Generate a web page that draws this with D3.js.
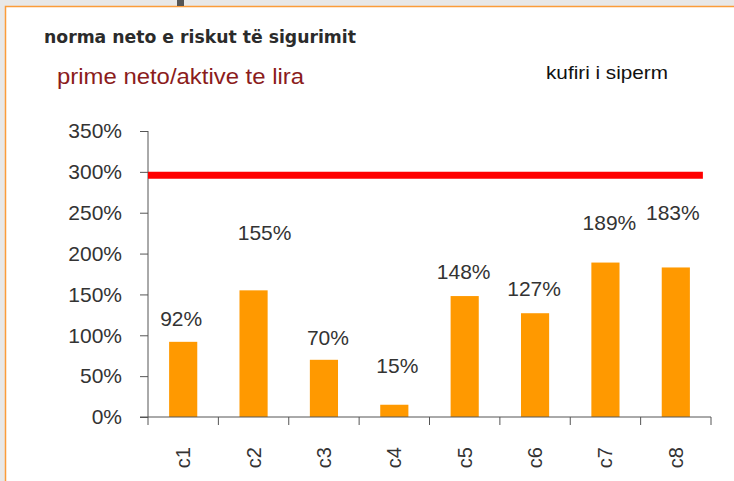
<!DOCTYPE html>
<html>
<head>
<meta charset="utf-8">
<script src="https://cdn.jsdelivr.net/npm/d3@7"></script>
<style>
  body { margin: 0; background: #e8e8e8; }
  svg { display: block; }
</style>
</head>
<body>
<svg id="chart" width="734" height="481"></svg>
<script>
// data
var categories = ["c1", "c2", "c3", "c4", "c5", "c6", "c7", "c8"];
var ratios = [0.92, 1.55, 0.70, 0.15, 1.48, 1.27, 1.89, 1.83];
var upperLimit = 2.96;
var yTicks = [0, 0.5, 1, 1.5, 2, 2.5, 3, 3.5];

// value labels were moved by hand in the original, so nudge them a bit
var labelLift = [16, 50, 15, 32, 17, 17, 33, 47];
var labelShift = [-2, 11, 4, 3, -1, -1, 4, -3];

var svg = d3.select("#chart");

// white panel with orange frame
svg.append("rect")
  .attr("x", 5.5)
  .attr("y", 6.5)
  .attr("width", 740)
  .attr("height", 490)
  .attr("fill", "#ffffff")
  .attr("stroke", "#fb9c3a")
  .attr("stroke-width", 1.5);

svg.append("rect")
  .attr("x", 177)
  .attr("y", 0)
  .attr("width", 7)
  .attr("height", 6)
  .attr("fill", "#555");

var x = d3.scaleBand()
  .domain(categories)
  .range([148, 711])
  .paddingInner(0.6)
  .paddingOuter(0.3);

var y = d3.scaleLinear()
  .domain([0, 3.5])
  .range([417, 131]);

// titles
svg.append("text")
  .attr("x", 44)
  .attr("y", 43)
  .attr("textLength", 312)
  .attr("lengthAdjust", "spacingAndGlyphs")
  .style("font-family", "'DejaVu Sans', sans-serif")
  .style("font-weight", "bold")
  .style("font-size", "17px")
  .attr("fill", "#2b2b2b")
  .text("norma neto e riskut të sigurimit");

svg.append("text")
  .attr("x", 57)
  .attr("y", 84)
  .attr("textLength", 247)
  .attr("lengthAdjust", "spacingAndGlyphs")
  .style("font-family", "'Liberation Sans', Arial, sans-serif")
  .style("font-size", "22px")
  .attr("fill", "#8b1c1c")
  .text("prime neto/aktive te lira");

svg.append("text")
  .attr("x", 546)
  .attr("y", 79)
  .attr("textLength", 122)
  .attr("lengthAdjust", "spacingAndGlyphs")
  .style("font-family", "'Liberation Sans', Arial, sans-serif")
  .style("font-size", "19px")
  .attr("fill", "#111")
  .text("kufiri i siperm");

var g = svg.append("g")
  .style("font-family", "'Liberation Sans', Arial, sans-serif");

// y axis
var yAxis = g.append("g")
  .attr("transform", "translate(148,0)")
  .call(d3.axisLeft(y).tickValues(yTicks).tickSize(8).tickPadding(18).tickFormat(d3.format(".0%")));
yAxis.select(".domain").remove();
yAxis.append("line")
  .attr("x1", 0).attr("x2", 0)
  .attr("y1", y(3.5)).attr("y2", y(0))
  .attr("stroke", "#555");
yAxis.selectAll(".tick line").attr("stroke", "#555");
yAxis.selectAll(".tick text")
  .attr("fill", "#333")
  .style("font-size", "21px");

// bars
g.selectAll(".bar")
  .data(ratios)
  .enter()
  .append("rect")
  .attr("class", "bar")
  .attr("x", (d, i) => x(categories[i]))
  .attr("y", (d) => y(d))
  .attr("width", x.bandwidth())
  .attr("height", (d) => y(0) - y(d))
  .attr("fill", "#ff9900");

// upper limit line
g.append("line")
  .attr("x1", x.range()[0])
  .attr("x2", x(categories[7]) + x.bandwidth() + 13)
  .attr("y1", y(upperLimit))
  .attr("y2", y(upperLimit))
  .attr("stroke", "#ff0000")
  .attr("stroke-width", 7);

// x axis
var step = x.step();
var x0 = x(categories[0]) - step * x.paddingOuter();
var xAxis = g.append("g")
  .attr("transform", "translate(0," + y(0) + ")");
xAxis.append("line")
  .attr("x1", 140)
  .attr("x2", x.range()[1])
  .attr("stroke", "#555");
xAxis.selectAll(".xtick")
  .data(d3.range(categories.length + 1))
  .enter()
  .append("line")
  .attr("class", "xtick")
  .attr("x1", (k) => x0 + k * step)
  .attr("x2", (k) => x0 + k * step)
  .attr("y1", 0)
  .attr("y2", 8)
  .attr("stroke", "#555");
xAxis.selectAll(".xlabel")
  .data(categories)
  .enter()
  .append("text")
  .attr("class", "xlabel")
  .attr("transform", (d) => "translate(" + (x(d) + x.bandwidth() / 2) + ",30) rotate(-90)")
  .attr("text-anchor", "end")
  .attr("dy", "0.35em")
  .attr("fill", "#333")
  .style("font-size", "20px")
  .text((d) => d);

// value labels
g.selectAll(".perc")
  .data(ratios)
  .enter()
  .append("text")
  .attr("class", "perc")
  .attr("x", (d, i) => x(categories[i]) + x.bandwidth() / 2 + labelShift[i])
  .attr("y", (d, i) => y(d) - labelLift[i])
  .attr("text-anchor", "middle")
  .attr("fill", "#333")
  .style("font-size", "21px")
  .text((d) => d3.format(".0%")(d));
</script>
</body>
</html>
